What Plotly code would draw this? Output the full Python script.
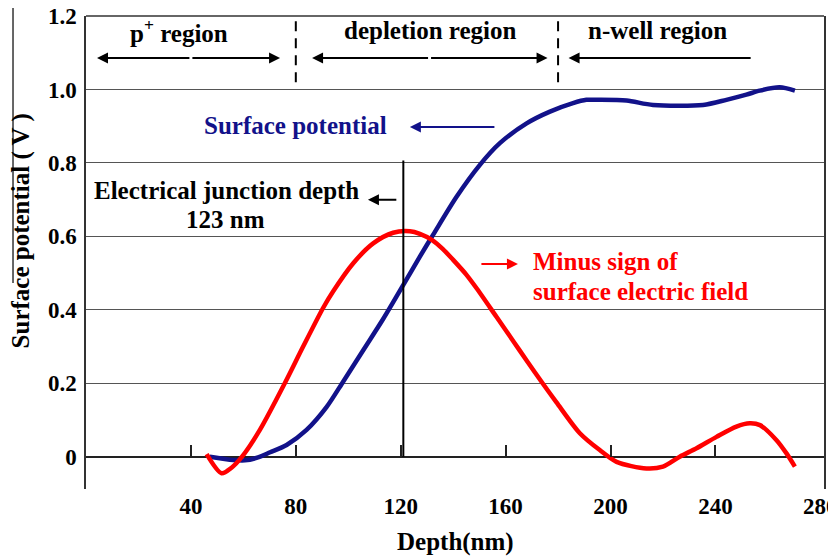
import plotly.graph_objects as go

# ---- data ----
pot_depth = [47.2, 56.1, 60.6, 65.6, 70.2, 76.5, 84.1, 91.7, 98.1, 105.7, 113.3, 121, 127.3, 132.4,
             141.3, 150.2, 157.8, 168, 176.9, 185.7, 190.8, 194.7, 206.1, 216.2, 235.3, 244.2,
             251.8, 256.9, 264.5, 270.3]
pot_value = [0.0, -0.009, -0.01, -0.002, 0.012, 0.032, 0.073, 0.135, 0.205, 0.29, 0.375, 0.468, 0.545, 0.605,
             0.708, 0.795, 0.854, 0.908, 0.94, 0.963, 0.972, 0.972, 0.97, 0.958, 0.958, 0.972,
             0.986, 0.997, 1.006, 0.997]

field_depth = [46, 51.7, 55.5, 59.5, 66.3, 75.8, 82.8, 90.4, 94.2, 101.9, 109.5, 117.1, 123.5,
               127.3, 132, 136, 140, 145, 149, 156.5, 163, 168, 174.3, 179.4, 188.3, 195.9, 202.3, 213.7,
               220, 226.4, 232.8, 240.4, 248, 253.1, 257, 263.3, 267.1, 270.3]
field_value = [0.007, -0.045, -0.03, 0.0, 0.073, 0.2, 0.3, 0.405, 0.45, 0.527, 0.581, 0.61, 0.614,
               0.607, 0.59, 0.566, 0.536, 0.496, 0.458, 0.381, 0.314, 0.262, 0.198, 0.148, 0.064, 0.018, -0.014,
               -0.032, -0.027, 0.0, 0.023, 0.054, 0.082, 0.091, 0.086, 0.045, 0.009, -0.027]

x_ticks = [40, 80, 120, 160, 200, 240, 280]
y_ticks = [0, 0.2, 0.4, 0.6, 0.8, 1.0, 1.2]
y_tick_text = ["0", "0.2", "0.4", "0.6", "0.8", "1.0", "1.2"]
region_bounds = [80, 180]
junction_depth = 121
regions = ["p<sup>+</sup> region", "depletion region", "n-well region"]
region_centers = [35.4, 131.2, 217.8]

X_RANGE = [0, 281.4]
Y_RANGE = [-0.088, 1.2003]

FONT = "Liberation Serif"
BLUE = "#12128a"
RED = "#ff0000"
FS = 25

fig = go.Figure()
fig.add_trace(go.Scatter(x=pot_depth, y=pot_value, mode="lines",
                         line=dict(color=BLUE, width=4.5, shape="spline", smoothing=0.8), showlegend=False))
fig.add_trace(go.Scatter(x=field_depth, y=field_value, mode="lines",
                         line=dict(color=RED, width=4.5, shape="spline", smoothing=0.8), showlegend=False))
# dummy trace to activate the x2 axis (tick marks on the zero line)
fig.add_trace(go.Scatter(x=[None], y=[None], xaxis="x2", showlegend=False))

tickfont = dict(family=FONT, size=23, color="black", weight="bold")

# page body has an 8px default margin: margins are offset so the plot lands where the reference has it
fig.update_layout(
    width=836, height=556,
    margin=dict(l=78, r=20, t=8, b=75, autoexpand=False),
    paper_bgcolor="white", plot_bgcolor="white",
    font=dict(family=FONT, color="black"),
    xaxis=dict(range=X_RANGE, tickvals=x_ticks, ticks="", showgrid=False, showline=False,
               zeroline=False, tickfont=tickfont, ticklabelstandoff=1, automargin=False,
               ticklabeloverflow="allow"),
    xaxis2=dict(range=X_RANGE, overlaying="x", anchor="free",
                position=(0 - Y_RANGE[0]) / (Y_RANGE[1] - Y_RANGE[0]),
                tickvals=x_ticks[:-1], ticks="inside", ticklen=12, tickwidth=1.5, tickcolor="#222",
                showticklabels=False, showgrid=False, showline=False, zeroline=False, automargin=False),
    yaxis=dict(range=Y_RANGE, tickvals=y_ticks, ticktext=y_tick_text, ticks="",
               showgrid=True, gridcolor="#555", gridwidth=1.2,
               zeroline=True, zerolinecolor="#222", zerolinewidth=1.8,
               showline=True, linecolor="#333", linewidth=1.5, mirror=True,
               tickfont=tickfont, ticklabelstandoff=3, automargin=False,
               ticklabeloverflow="allow"),
)

shapes = []
# top border
shapes.append(dict(type="line", xref="paper", yref="paper", x0=0, x1=1, y0=1, y1=1,
                   line=dict(color="#333", width=1.5)))
# region boundaries (dashed)
for b in region_bounds:
    shapes.append(dict(type="line", xref="x", yref="y", x0=b, x1=b, y0=1.02, y1=1.19,
                       line=dict(color="black", width=2, dash="10px,7px")))
# junction depth line
shapes.append(dict(type="line", xref="x", yref="y", x0=junction_depth, x1=junction_depth,
                   y0=0, y1=0.807, line=dict(color="black", width=2)))
# stray line beside the y-axis title
shapes.append(dict(type="line", xref="paper", yref="paper", x0=-0.0989, x1=-0.0989,
                   y0=1.019, y1=0.4355, line=dict(color="black", width=1.2)))
fig.update_layout(shapes=shapes)

ann = []


def bold(s):
    return "<b>" + s + "</b>"


for t, c in zip(regions, region_centers):
    ann.append(dict(x=c, y=1.16, xref="x", yref="y", text=bold(t), showarrow=False,
                    font=dict(family=FONT, size=FS, color="black")))


def arrow(x_tip, y_tip, x_tail, y_tail, color):
    return dict(x=x_tip, y=y_tip, ax=x_tail, ay=y_tail, xref="x", yref="y", axref="x", ayref="y",
                text="", showarrow=True, arrowhead=2, arrowsize=1.1, arrowwidth=2, arrowcolor=color)


# double arrows in region header
ann.append(arrow(4.2, 1.086, 40, 1.086, "black"))
ann.append(arrow(74, 1.086, 40, 1.086, "black"))
ann.append(arrow(86.2, 1.086, 131, 1.086, "black"))
ann.append(arrow(176, 1.086, 131, 1.086, "black"))
ann.append(arrow(184, 1.086, 254, 1.086, "black"))

# labels
ann.append(dict(x=79.7, y=0.903, xref="x", yref="y", text=bold("Surface potential"), showarrow=False,
                font=dict(family=FONT, size=FS, color=BLUE)))
ann.append(arrow(123.5, 0.898, 156.3, 0.898, BLUE))
ann.append(dict(x=53.4, y=0.726, xref="x", yref="y", text=bold("Electrical junction depth"), showarrow=False,
                font=dict(family=FONT, size=FS, color="black")))
ann.append(dict(x=53.2, y=0.645, xref="x", yref="y", text=bold("123 nm"), showarrow=False,
                font=dict(family=FONT, size=FS, color="black")))
ann.append(arrow(107.5, 0.70, 118.9, 0.70, "black"))
ann.append(dict(x=169.5, y=0.531, xref="x", yref="y", xanchor="left", text=bold("Minus sign of"),
                showarrow=False, font=dict(family=FONT, size=FS, color=RED)))
ann.append(dict(x=169.5, y=0.45, xref="x", yref="y", xanchor="left", text=bold("surface electric field"),
                showarrow=False, font=dict(family=FONT, size=FS, color=RED)))
ann.append(arrow(164.7, 0.525, 150.2, 0.525, RED))
# axis titles
ann.append(dict(x=-0.0875, y=0.5455, xref="paper", yref="paper", xanchor="center", yanchor="middle",
                text=bold("Surface potential ( V )"), textangle=-90, showarrow=False,
                font=dict(family=FONT, size=FS, color="black")))
ann.append(dict(x=0.5, y=-0.112, xref="paper", yref="paper", xanchor="center", yanchor="middle",
                text=bold("Depth(nm)"), showarrow=False,
                font=dict(family=FONT, size=FS, color="black")))
fig.update_layout(annotations=ann)

fig.write_html("out.html")
